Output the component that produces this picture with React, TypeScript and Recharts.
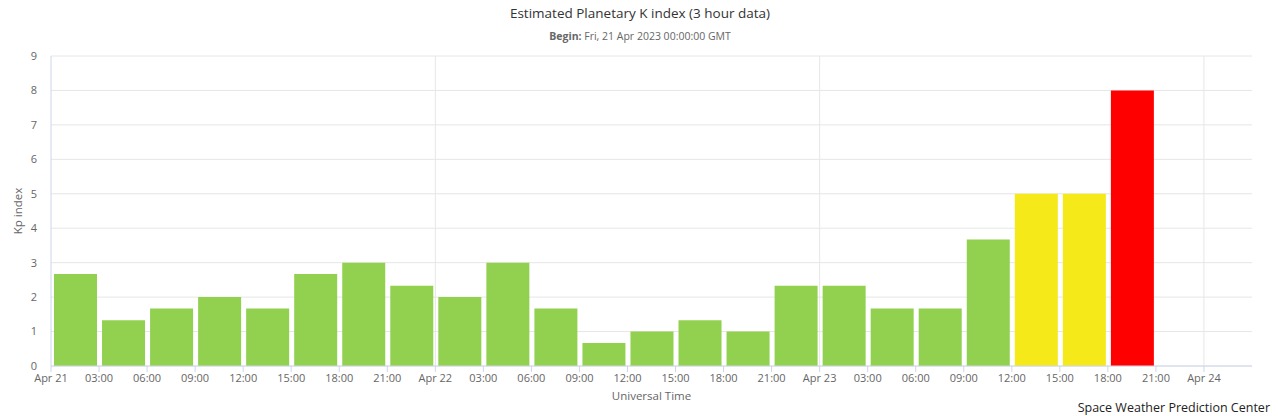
import { BarChart, Bar, XAxis, YAxis, CartesianGrid, ReferenceLine, Cell } from 'recharts';

// Kp index, one value per 3-hour slot starting Apr 21 00:00 UTC
const slotStarts = [0, 3, 6, 9, 12, 15, 18, 21, 24, 27, 30, 33, 36, 39, 42, 45, 48, 51, 54, 57, 60, 63, 66];
const kpValues = [2.67, 1.33, 1.67, 2, 1.67, 2.67, 3, 2.33, 2, 3, 1.67, 0.67, 1, 1.33, 1, 2.33, 2.33, 1.67, 1.67, 3.67, 5, 5, 8];
const hourTicks = [0, 3, 6, 9, 12, 15, 18, 21, 24, 27, 30, 33, 36, 39, 42, 45, 48, 51, 54, 57, 60, 63, 66, 69, 72];
const dayLabels = ['Apr 21', 'Apr 22', 'Apr 23', 'Apr 24'];
const dayBreaks = [24, 48, 72];
const kpTicks = [0, 1, 2, 3, 4, 5, 6, 7, 8, 9];

const data = slotStarts.map((t, i) => ({ t: t + 1.5, kp: kpValues[i] }));

const FONT = '"Open Sans", "DejaVu Sans", sans-serif';

function kpColor(kp: number) {
  if (kp < 5) return '#92d050';
  if (kp < 6) return '#f5e91a';
  return '#ff0000';
}

function timeLabel(h: number) {
  if (h % 24 === 0) return dayLabels[h / 24];
  const hh = h % 24;
  return `${hh < 10 ? '0' : ''}${hh}:00`;
}

export default function App() {
  const tickStyle = { fontSize: 11, fill: '#666666', fontFamily: FONT };
  return (
    <div style={{ position: 'absolute', left: 0, top: 0, width: 1280, height: 416, background: '#fff', fontFamily: FONT }}>
      <div style={{ position: 'absolute', top: 4, width: 1280, textAlign: 'center', fontSize: 13.5, color: '#333333' }}>
        Estimated Planetary K index (3 hour data)
      </div>
      <div style={{ position: 'absolute', top: 29, width: 1280, textAlign: 'center', fontSize: 10.5, color: '#666666' }}>
        <b>Begin:</b> Fri, 21 Apr 2023 00:00:00 GMT
      </div>
      <BarChart
        width={1280}
        height={416}
        data={data}
        margin={{ top: 56, right: 0, left: 0, bottom: 16 }}
      >
        <CartesianGrid vertical={false} stroke="#e6e6e6" />
        {dayBreaks.map((d) => (
          <ReferenceLine key={d} x={d} stroke="#e6e6e6" />
        ))}
        <XAxis
          type="number"
          dataKey="t"
          domain={[0, 75]}
          ticks={hourTicks}
          interval={0}
          tickFormatter={timeLabel}
          height={34}
          tickSize={6}
          tickMargin={2}
          stroke="#ccd6eb"
          tick={tickStyle}
          label={{ value: 'Universal Time', position: 'insideBottom', offset: 0, fontSize: 11.5, fill: '#666666', fontFamily: FONT }}
        />
        <YAxis
          domain={[0, 9]}
          ticks={kpTicks}
          interval={0}
          width={51}
          tickLine={false}
          tickSize={6}
          tickMargin={8}
          axisLine={{ stroke: '#ccd6eb' }}
          tick={tickStyle}
          label={{ value: 'Kp index', angle: -90, position: 'insideLeft', offset: 18, fontSize: 11.5, fill: '#666666', fontFamily: FONT, style: { textAnchor: 'middle' } }}
        />
        <YAxis
          yAxisId="right"
          orientation="right"
          domain={[0, 9]}
          ticks={kpTicks}
          interval={0}
          width={28}
          tickLine={false}
          tickSize={6}
          tickMargin={8}
          axisLine={false}
          tick={tickStyle}
        />
        <Bar dataKey="kp" barSize={43} isAnimationActive={false}>
          {data.map((d, i) => (
            <Cell key={i} fill={kpColor(d.kp)} />
          ))}
        </Bar>
      </BarChart>
      <div style={{ position: 'absolute', right: 10, top: 399, fontSize: 12.5, color: '#222222' }}>
        Space Weather Prediction Center
      </div>
    </div>
  );
}
